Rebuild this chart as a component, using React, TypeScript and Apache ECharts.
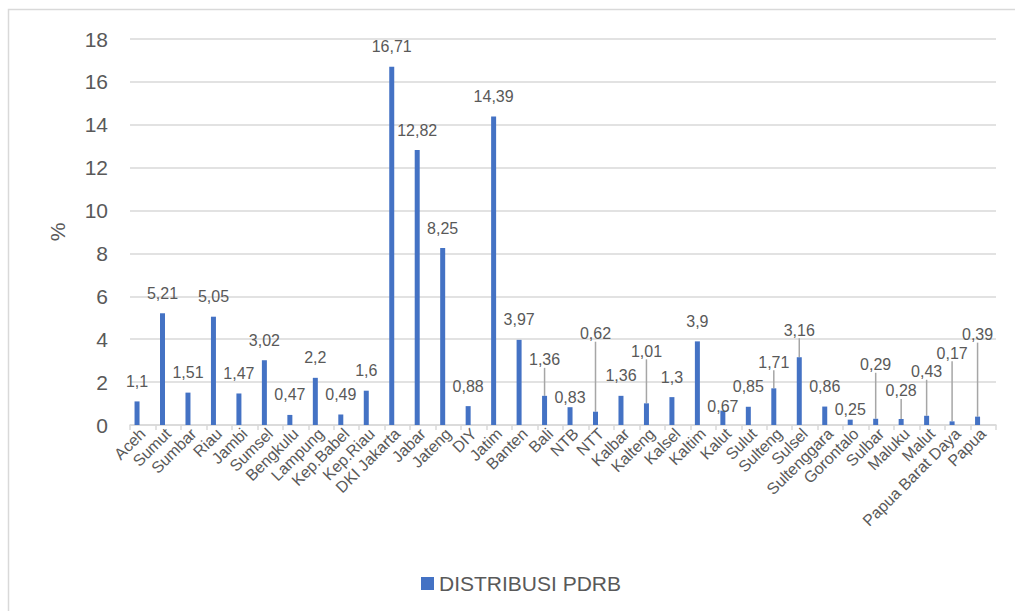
import React, { useEffect, useRef } from "react";
import * as echarts from "echarts";

const categories = [
  "Aceh", "Sumut", "Sumbar", "Riau", "Jambi", "Sumsel", "Bengkulu", "Lampung",
  "Kep.Babel", "Kep.Riau", "DKI Jakarta", "Jabar", "Jateng", "DIY", "Jatim", "Banten",
  "Bali", "NTB", "NTT", "Kalbar", "Kalteng", "Kalsel", "Kaltim", "Kalut",
  "Sulut", "Sulteng", "Sulsel", "Sultenggara", "Gorontalo", "Sulbar", "Maluku", "Malut",
  "Papua Barat Daya", "Papua",
];

const pdrb = [
  1.1, 5.21, 1.51, 5.05, 1.47, 3.02, 0.47, 2.2,
  0.49, 1.6, 16.71, 12.82, 8.25, 0.88, 14.39, 3.97,
  1.36, 0.83, 0.62, 1.36, 1.01, 1.3, 3.9, 0.67,
  0.85, 1.71, 3.16, 0.86, 0.25, 0.29, 0.28, 0.43,
  0.17, 0.39,
];

// label vertical shift (px) relative to default position, and whether a leader line is drawn
const labelShift = [
  0, 0, 0, 0, 0, 0, 0, 0,
  0, 0, 0, 0, 0, 0, 0, 0,
  -16, 10, -58, 0, -32, 0, 0, 16,
  0, -6, -7, 0, 10, -34, -8, -24,
  -48, -62,
];
const leader = [
  0, 0, 0, 0, 0, 0, 0, 0,
  0, 0, 0, 0, 0, 0, 0, 0,
  1, 0, 1, 0, 1, 0, 0, 0,
  0, 1, 1, 0, 0, 1, 1, 1,
  1, 1,
];

const yTicks = { min: 0, max: 18, interval: 2 };

const FONT = "'Liberation Sans', Arial, sans-serif";
const TEXT = "#595959";
const GRID = "#d9d9d9";
const BLUE = "#4472C4";

export default function App() {
  const ref = useRef<HTMLDivElement>(null);

  useEffect(() => {
    if (!ref.current) return;
    const chart = echarts.init(ref.current, undefined, { renderer: "svg" });
    chart.setOption({
      animation: false,
      textStyle: { fontFamily: FONT },
      graphic: [
        {
          type: "rect",
          shape: { x: 8.5, y: 9.5, width: 1030, height: 640 },
          style: { fill: "none", stroke: GRID, lineWidth: 1.5 },
          silent: true,
        },
      ],
      grid: { left: 130, right: 19, top: 39, bottom: 186, containLabel: false },
      legend: {
        data: ["DISTRIBUSI PDRB"],
        left: 416,
        top: 568,
        icon: "rect",
        itemWidth: 13,
        itemHeight: 13,
        textStyle: { fontSize: 21, color: TEXT, fontFamily: FONT },
      },
      xAxis: {
        type: "category",
        data: categories,
        axisLine: { show: true, lineStyle: { color: GRID, width: 1.5 } },
        axisTick: { show: true, length: 5, interval: 0, lineStyle: { color: GRID, width: 1.5 } },
        axisLabel: {
          interval: 0,
          rotate: 45,
          fontSize: 16,
          color: TEXT,
          margin: 6,
          fontFamily: FONT,
        },
      },
      yAxis: {
        type: "value",
        min: yTicks.min,
        max: yTicks.max,
        interval: yTicks.interval,
        name: "%",
        nameLocation: "middle",
        nameGap: 62,
        nameRotate: 90,
        nameTextStyle: { fontSize: 21, color: TEXT, fontFamily: FONT },
        axisLine: { show: false },
        axisTick: { show: false },
        axisLabel: { fontSize: 21, color: TEXT, margin: 22, fontFamily: FONT },
        splitLine: { lineStyle: { color: GRID, width: 1.5 } },
      },
      series: [
        {
          name: "DISTRIBUSI PDRB",
          type: "bar",
          barWidth: 5,
          barGap: "128%",
          itemStyle: { color: BLUE },
          data: pdrb.map((v, i) => ({
            value: v,
            labelLine: { show: !!leader[i] },
          })),
          label: {
            show: true,
            position: "top",
            distance: 12,
            fontSize: 16,
            color: TEXT,
            fontFamily: FONT,
            formatter: (p: any) => String(p.value).replace(".", ","),
          },
          labelLine: {
            show: false,
            lineStyle: { color: "#a6a6a6", width: 1.5 },
          },
          labelLayout: (p: any) => ({ dy: labelShift[p.dataIndex] || 0 }),
        },
        {
          name: "spacer",
          type: "bar",
          barWidth: 5,
          data: pdrb.map(() => null),
          silent: true,
        },
      ],
    });
    return () => chart.dispose();
  }, []);

  return (
    <div
      ref={ref}
      style={{ position: "fixed", left: 0, top: 0, width: 1015, height: 611, background: "#fff" }}
    />
  );
}
